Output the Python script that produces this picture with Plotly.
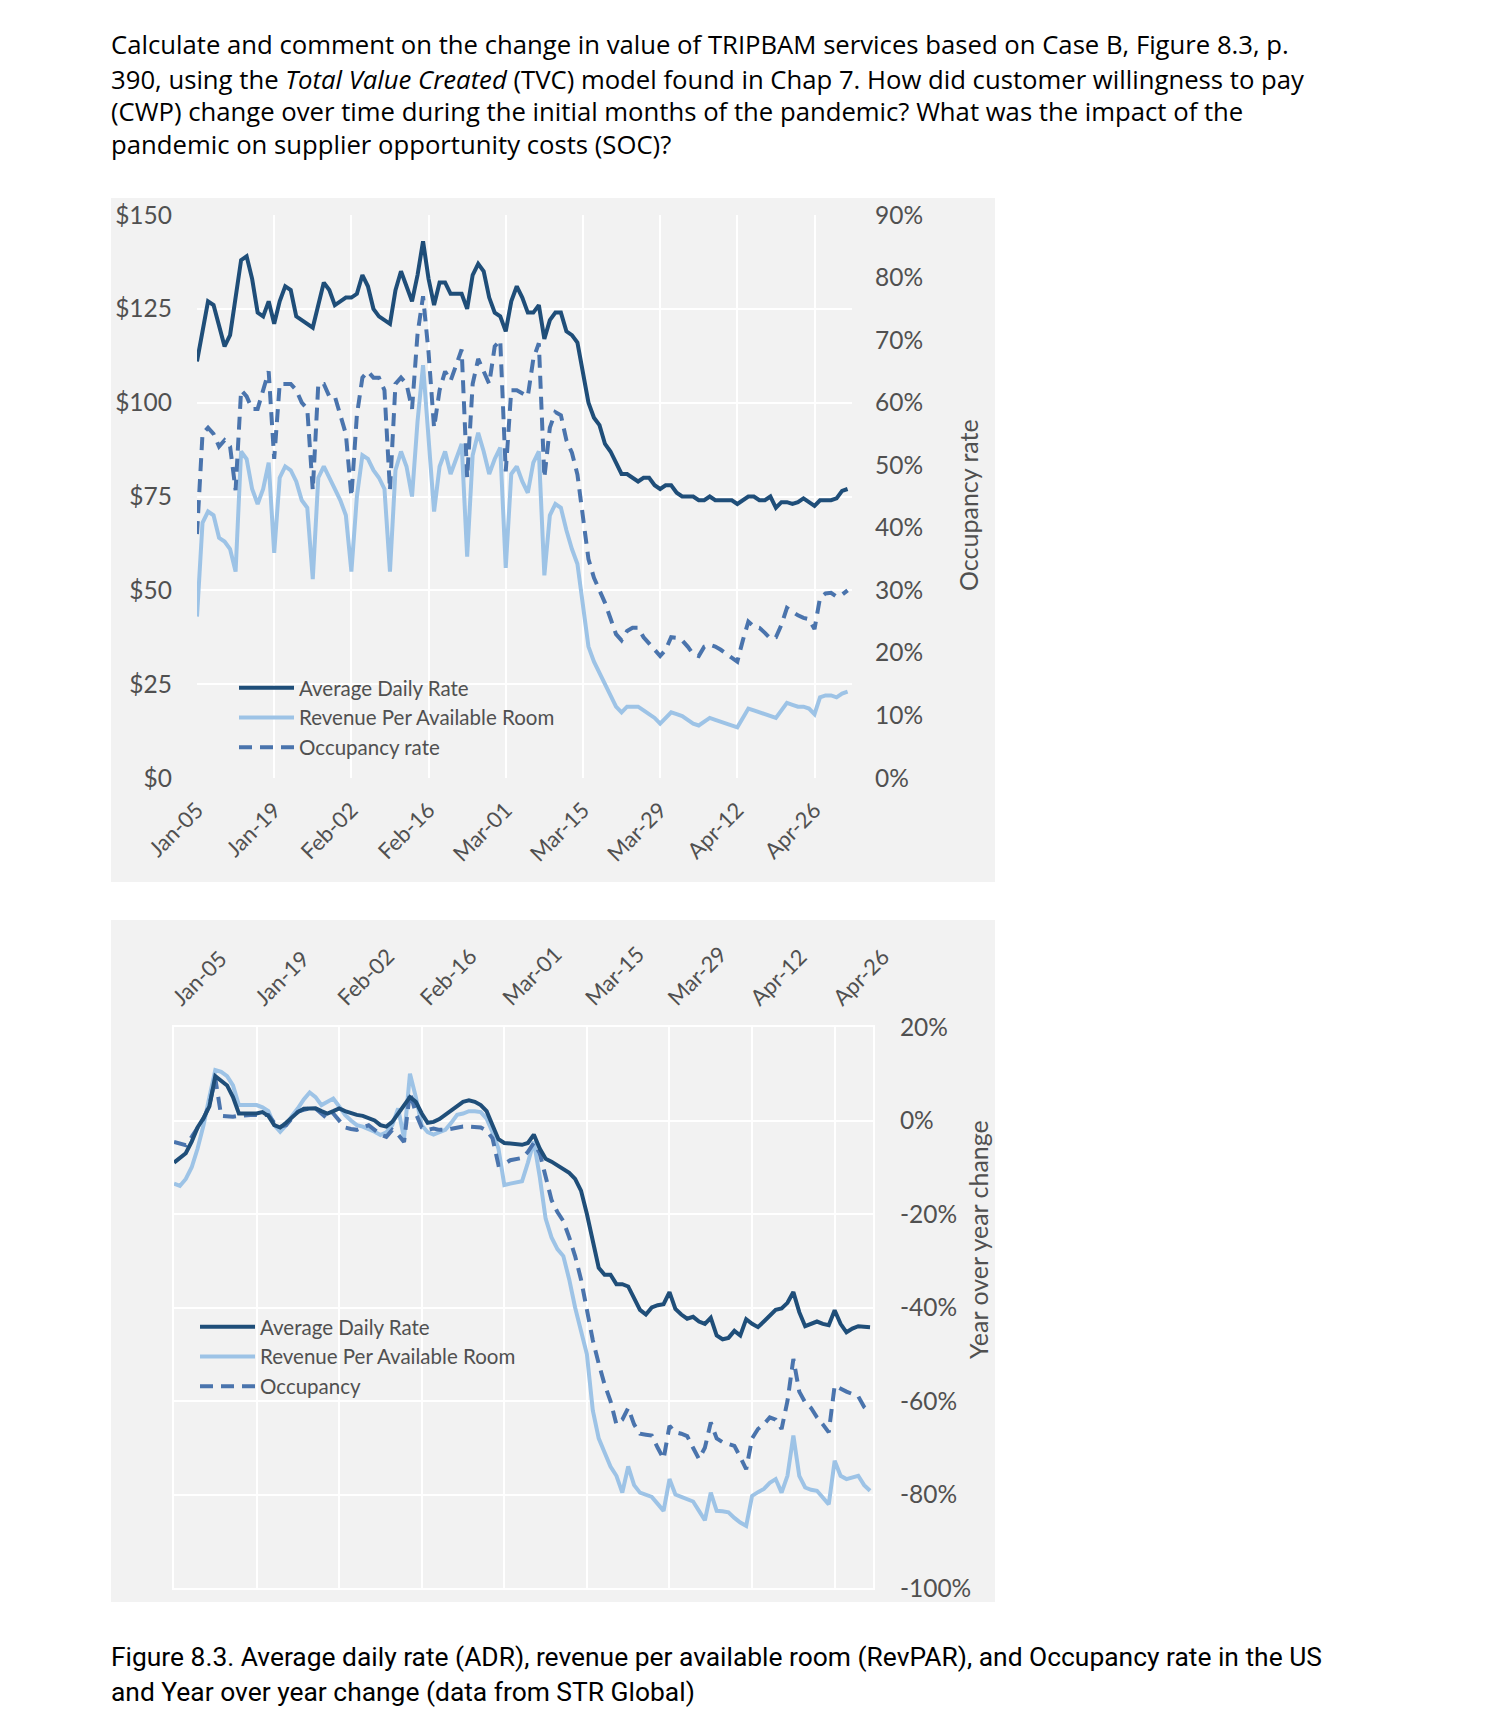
import pandas as pd
import plotly.graph_objects as go

# ---------------- data ----------------
dates = pd.date_range("2020-01-05", "2020-05-02", freq="D")
tick_dates = pd.date_range("2020-01-05", "2020-04-26", freq="14D")
tick_labels = ["Jan-05", "Jan-19", "Feb-02", "Feb-16", "Mar-01",
               "Mar-15", "Mar-29", "Apr-12", "Apr-26"]

# Top panel: levels
adr = [111, 119, 127, 126, 120, 115, 118, 128, 138, 139,
       133, 124, 123, 127, 121, 127, 131, 130, 123, 122,
       121, 120, 126, 132, 130, 126, 127, 128, 128, 129,
       134, 131, 125, 123, 122, 121, 130, 135, 131, 127,
       134, 143, 133, 126, 132, 132, 129, 129, 129, 125,
       134, 137, 135, 128, 124, 123, 119, 127, 131, 128,
       124, 124, 126, 117, 122, 124, 124, 119, 118, 116,
       108, 100, 96, 94, 89, 87, 84, 81, 81, 80,
       79, 80, 80, 78, 77, 78, 78, 76, 75, 75,
       75, 74, 74, 75, 74, 74, 74, 74, 73, 74,
       75, 75, 74, 74, 75, 72, 73.5, 73.5, 73, 73.5,
       74.5, 73.5, 72.5, 74, 74, 74, 74.5, 76.5, 77]

revpar = [43, 68, 71, 70, 64, 63, 61, 55, 87, 85,
          77, 73, 77, 84, 60, 80, 83, 82, 79, 74,
          72, 53, 80, 83, 80, 77, 74, 70, 55, 75,
          86, 85, 82, 80, 77, 55, 82, 87, 83, 75,
          95, 110, 90, 71, 83, 87, 81, 85, 89, 59,
          86, 92, 87, 81, 85, 88, 56, 81, 83, 79,
          76, 84, 87, 54, 70, 73, 72, 66, 61, 57,
          45, 35, 31, 28, 25, 22, 19, 17.5, 19, 19,
          19, 18, 17, 16, 14.5, 16, 17.5, 17, 16.5, 15.5,
          14.5, 14, 15, 16, 15.5, 15, 14.5, 14, 13.5, 16,
          18.5, 18, 17.5, 17, 16.5, 16, 18, 20, 19.5, 19,
          19, 18.5, 17, 21.5, 22, 22, 21.5, 22.5, 23]

occupancy = [39, 55, 56, 55, 53, 54, 53, 46, 62, 61,
             59, 59, 62, 65, 51, 63, 63, 63, 62, 60,
             59, 46, 63, 63, 61, 61, 58, 55, 45, 58,
             64, 65, 64, 64, 62, 46, 63, 64, 63, 59,
             71, 77, 68, 56, 62, 65, 63.5, 66, 68.5, 48,
             63, 67, 65, 63, 69, 70, 49, 62, 62, 61.5,
             61, 67, 69.5, 48, 56, 58.5, 58, 54, 52, 48.5,
             42, 35, 32, 30, 28, 25.5, 23, 22, 23.5, 24,
             24, 22.5, 21.5, 20.5, 19.5, 20.5, 22.5, 22.4, 22, 21,
             19.8, 19.5, 21, 21.3, 21, 20.5, 19.8, 19.2, 18.6, 22,
             25, 24.2, 24, 23.2, 22.3, 22.5, 24.5, 27.2, 26.6, 26,
             25.6, 25.4, 23.8, 28.8, 29.5, 29.6, 29, 29.3, 30]

# Bottom panel: year over year change (%)
adr_yoy = [-9, -8, -7, -4.5, -1.5, 0.5, 3, 9.5, 8.5, 7.5,
           5, 1.5, 1.5, 1.5, 1.5, 1.8, 1, -1, -1.5, -0.5,
           0.8, 1.8, 2.5, 2.6, 2.6, 2, 1.5, 2, 2.6, 2,
           1.5, 1.2, 1, 0.5, 0, -1, -1.3, -0.3, 1.5, 3,
           5, 4, 1.5, -0.5, -0.3, 0.3, 1.2, 2.2, 3.2, 4,
           4.3, 4, 3.3, 2, -1, -4, -4.8, -4.9, -5, -5.2,
           -4.8, -3, -6, -8.2, -8.8, -9.6, -10.3, -11.2, -12.5, -15,
           -20, -26, -31.5, -33, -33, -35, -35, -35.5, -38, -40.5,
           -41.5, -40, -39.5, -39.3, -36.7, -40.3, -41.5, -42.4, -42, -43,
           -43.5, -42.2, -46, -46.8, -46.5, -45, -46, -42.5, -43.5, -44.2,
           -43, -41.7, -40.5, -40.2, -39, -36.7, -41, -44, -43.5, -43,
           -43.5, -43.8, -40.6, -43.5, -45.3, -44.5, -44, -44.2, -44.2]

revpar_yoy = [-13.5, -14, -12.5, -10, -6, -1, 5, 10.8, 10.4, 9.5,
              7.5, 3.3, 3.3, 3.3, 3.3, 2.8, 2, -1, -2.4, -1,
              1, 2.6, 4.5, 6, 5, 3.3, 4, 4.7, 3, 1.2,
              0, -1, -1.3, -1.8, -2.4, -3.1, -2.5, -1, 2.6, -3.8,
              10, 5, -1, -2.5, -3, -2.5, -2, -0.5, 1.2, 1.5,
              2, 2, 1.8, 0.4, -2.5, -6, -13.8, -13.5, -13.3, -13,
              -9, -4.5, -12, -21, -25, -27.5, -29, -34, -40, -45,
              -50, -62, -68, -71, -74, -76, -79.6, -74, -78, -79.6,
              -80, -80.5, -82, -83.5, -76.7, -80, -80.5, -81, -81.5, -83.5,
              -85.5, -79.6, -83.5, -83.6, -83.8, -85, -86, -86.7, -80.3, -79.5,
              -78.8, -77.5, -76.7, -79.6, -76, -67.4, -76, -78.5, -79, -79.2,
              -80.5, -82.1, -72.8, -76, -76.7, -76.3, -76, -78, -79.2]

occupancy_yoy = [-4.6, -5, -5.3, -3.5, -1.5, 0.4, 3.3, 9, 1, 0.8,
                 0.8, 1, 1.2, 1.2, 1.2, 1.2, 1.2, -0.5, -1.3, -1,
                 0.5, 1.9, 2.3, 2.6, 2.6, 1.5, 0.4, 1.5, 0, -1.5,
                 -1.8, -2, -1.5, -1, -2, -3, -3.5, -2, -3, -4.6,
                 6.1, 1.5, -1.5, -2, -1.7, -2, -2, -1.7, -1.5, -1.3,
                 -1.3, -1.4, -1.5, -2.2, -3.8, -9.5, -9.3, -8.5, -8.3, -8,
                 -6.7, -4.8, -7, -12, -17, -19.6, -21.5, -25, -29, -34,
                 -41, -47, -52, -56.5, -60, -65, -64, -61.5, -65, -67,
                 -67.2, -67.4, -70, -72.4, -65.3, -66.7, -67, -67.5, -70, -72.4,
                 -70, -64.6, -68, -68.8, -69.2, -69.6, -72, -74.6, -68, -66,
                 -65, -63.5, -64, -66, -60, -51, -58, -60.3, -61.5, -63.5,
                 -65, -66.7, -56.7, -57.4, -58, -58.5, -59, -61.3, -62.4]

dollar_ticks = [0, 25, 50, 75, 100, 125, 150]
dollar_labels = ["$0", "$25", "$50", "$75", "$100", "$125", "$150"]
occ_ticks = [0, 10, 20, 30, 40, 50, 60, 70, 80, 90]
occ_labels = ["0%", "10%", "20%", "30%", "40%", "50%", "60%", "70%", "80%", "90%"]
yoy_ticks = [-100, -80, -60, -40, -20, 0, 20]
yoy_labels = ["-100%", "-80%", "-60%", "-40%", "-20%", "0%", "20%"]

question_lines = [
    "Calculate and comment on the change in value of TRIPBAM services based on Case B, Figure 8.3, p.",
    "390, using the <i>Total Value Created</i> (TVC) model found in Chap 7. How did customer willingness to pay",
    "(CWP) change over time during the initial months of the pandemic? What was the impact of the",
    "pandemic on supplier opportunity costs (SOC)?",
]
caption_lines = [
    "Figure 8.3. Average daily rate (ADR), revenue per available room (RevPAR), and Occupancy rate in the US",
    "and Year over year change (data from STR Global)",
]

# ---------------- styling ----------------
W, H = 1492, 1718
def px(x):
    return x / W
def py(y):
    return 1 - y / H

C_ADR = "#1f4e79"
C_REV = "#9dc3e6"
C_OCC = "#4a74ad"
PANEL = "#f2f2f2"
TXT = "#505050"
FONT = "Lato, 'Open Sans', sans-serif"
LW = 4
DASH = "13px,8px"

fig = go.Figure()

# top panel
fig.add_trace(go.Scatter(x=dates, y=revpar, name="Revenue Per Available Room",
                         mode="lines", line=dict(color=C_REV, width=LW),
                         xaxis="x", yaxis="y", legend="legend", legendrank=2))
fig.add_trace(go.Scatter(x=dates, y=adr, name="Average Daily Rate",
                         mode="lines", line=dict(color=C_ADR, width=LW),
                         xaxis="x", yaxis="y", legend="legend", legendrank=1))
fig.add_trace(go.Scatter(x=dates, y=occupancy, name="Occupancy rate",
                         mode="lines", line=dict(color=C_OCC, width=LW, dash=DASH),
                         xaxis="x", yaxis="y2", legend="legend", legendrank=3))

# bottom panel
fig.add_trace(go.Scatter(x=dates, y=revpar_yoy, name="Revenue Per Available Room",
                         mode="lines", line=dict(color=C_REV, width=LW),
                         xaxis="x2", yaxis="y3", legend="legend2", legendrank=2))
fig.add_trace(go.Scatter(x=dates, y=occupancy_yoy, name="Occupancy",
                         mode="lines", line=dict(color=C_OCC, width=LW, dash=DASH),
                         xaxis="x2", yaxis="y3", legend="legend2", legendrank=3))
fig.add_trace(go.Scatter(x=dates, y=adr_yoy, name="Average Daily Rate",
                         mode="lines", line=dict(color=C_ADR, width=LW),
                         xaxis="x2", yaxis="y3", legend="legend2", legendrank=1))

start = dates[0]
tickfont = dict(family=FONT, size=22, color=TXT)
valfont = dict(family=FONT, size=24.5, color=TXT)
titlefont = dict(family=FONT, size=25, color=TXT)
legfont = dict(family=FONT, size=20.5, color=TXT)

fig.update_layout(
    template="none",
    width=W, height=H, autosize=False,
    margin=dict(l=0, r=0, t=0, b=0, pad=0),
    paper_bgcolor="white",
    plot_bgcolor="rgba(0,0,0,0)",
    font=dict(family=FONT, color=TXT),
    xaxis=dict(domain=[px(197), px(852)], anchor="y", automargin=False,
               range=[start, start + pd.Timedelta(days=118.8)],
               tickmode="array", tickvals=tick_dates, ticktext=tick_labels,
               tickangle=-45, tickfont=tickfont, ticks="", ticklabelstandoff=14,
               showgrid=True, gridcolor="white", gridwidth=2,
               zeroline=False, showline=False),
    yaxis=dict(domain=[py(778), py(215)], anchor="x", range=[0, 150], automargin=False,
               tickmode="array", tickvals=dollar_ticks, ticktext=dollar_labels,
               tickfont=valfont, ticks="", ticklabelstandoff=24,
               showgrid=True, gridcolor="white", gridwidth=2,
               zeroline=False, showline=False),
    yaxis2=dict(overlaying="y", side="right", anchor="x", range=[0, 90], automargin=False,
                tickmode="array", tickvals=occ_ticks, ticktext=occ_labels,
                tickfont=valfont, ticks="", ticklabelstandoff=22,
                showgrid=False, zeroline=False, showline=False),
    xaxis2=dict(domain=[px(174), px(873)], anchor="y3", side="top", automargin=False,
                range=[start, start + pd.Timedelta(days=118.5)],
                tickmode="array", tickvals=tick_dates, ticktext=tick_labels,
                tickangle=-45, tickfont=tickfont, ticks="", ticklabelstandoff=6,
                showgrid=True, gridcolor="white", gridwidth=2,
                zeroline=False, showline=True, linecolor="white", linewidth=2,
                mirror=True),
    yaxis3=dict(domain=[py(1588), py(1027)], anchor="x2", side="right", automargin=False,
                range=[-100, 20],
                tickmode="array", tickvals=yoy_ticks, ticktext=yoy_labels,
                tickfont=valfont, ticks="", ticklabelstandoff=20,
                showgrid=True, gridcolor="white", gridwidth=2,
                zeroline=False, showline=True, linecolor="white", linewidth=2,
                mirror=True),
    legend=dict(x=px(234), y=py(668), xanchor="left", yanchor="top",
                bgcolor="rgba(0,0,0,0)", font=legfont,
                tracegroupgap=0, itemwidth=55, traceorder="normal"),
    legend2=dict(x=px(195), y=py(1307), xanchor="left", yanchor="top",
                 bgcolor="rgba(0,0,0,0)", font=legfont,
                 tracegroupgap=0, itemwidth=55, traceorder="normal"),
    showlegend=True,
)

# panel backgrounds
fig.add_shape(type="rect", xref="paper", yref="paper", layer="below",
              x0=px(111), x1=px(995), y0=py(882), y1=py(198),
              fillcolor=PANEL, line=dict(width=0))
fig.add_shape(type="rect", xref="paper", yref="paper", layer="below",
              x0=px(111), x1=px(995), y0=py(1602), y1=py(920),
              fillcolor=PANEL, line=dict(width=0))

# axis titles (rotated)
fig.add_annotation(text="Occupancy rate", xref="paper", yref="paper",
                   x=px(968), y=py(505), xanchor="center", yanchor="middle",
                   textangle=-90, showarrow=False, font=titlefont)
fig.add_annotation(text="Year over year change", xref="paper", yref="paper",
                   x=px(978), y=py(1240), xanchor="center", yanchor="middle",
                   textangle=-90, showarrow=False, font=titlefont)

# question text
q_centers = [45, 79, 112, 145]
for line, yc in zip(question_lines, q_centers):
    fig.add_annotation(text=line, xref="paper", yref="paper", x=px(109), y=py(yc),
                       xanchor="left", yanchor="middle", showarrow=False,
                       font=dict(family="'Open Sans', sans-serif", size=25.7, color="black"))

# caption
c_centers = [1657, 1692]
for line, yc in zip(caption_lines, c_centers):
    fig.add_annotation(text=line, xref="paper", yref="paper", x=px(109), y=py(yc),
                       xanchor="left", yanchor="middle", showarrow=False,
                       font=dict(family="Roboto, sans-serif", size=26.4, color="black"))

fig.write_html("out.html", config={"displayModeBar": False},
               post_script="document.body.style.margin='0';")
